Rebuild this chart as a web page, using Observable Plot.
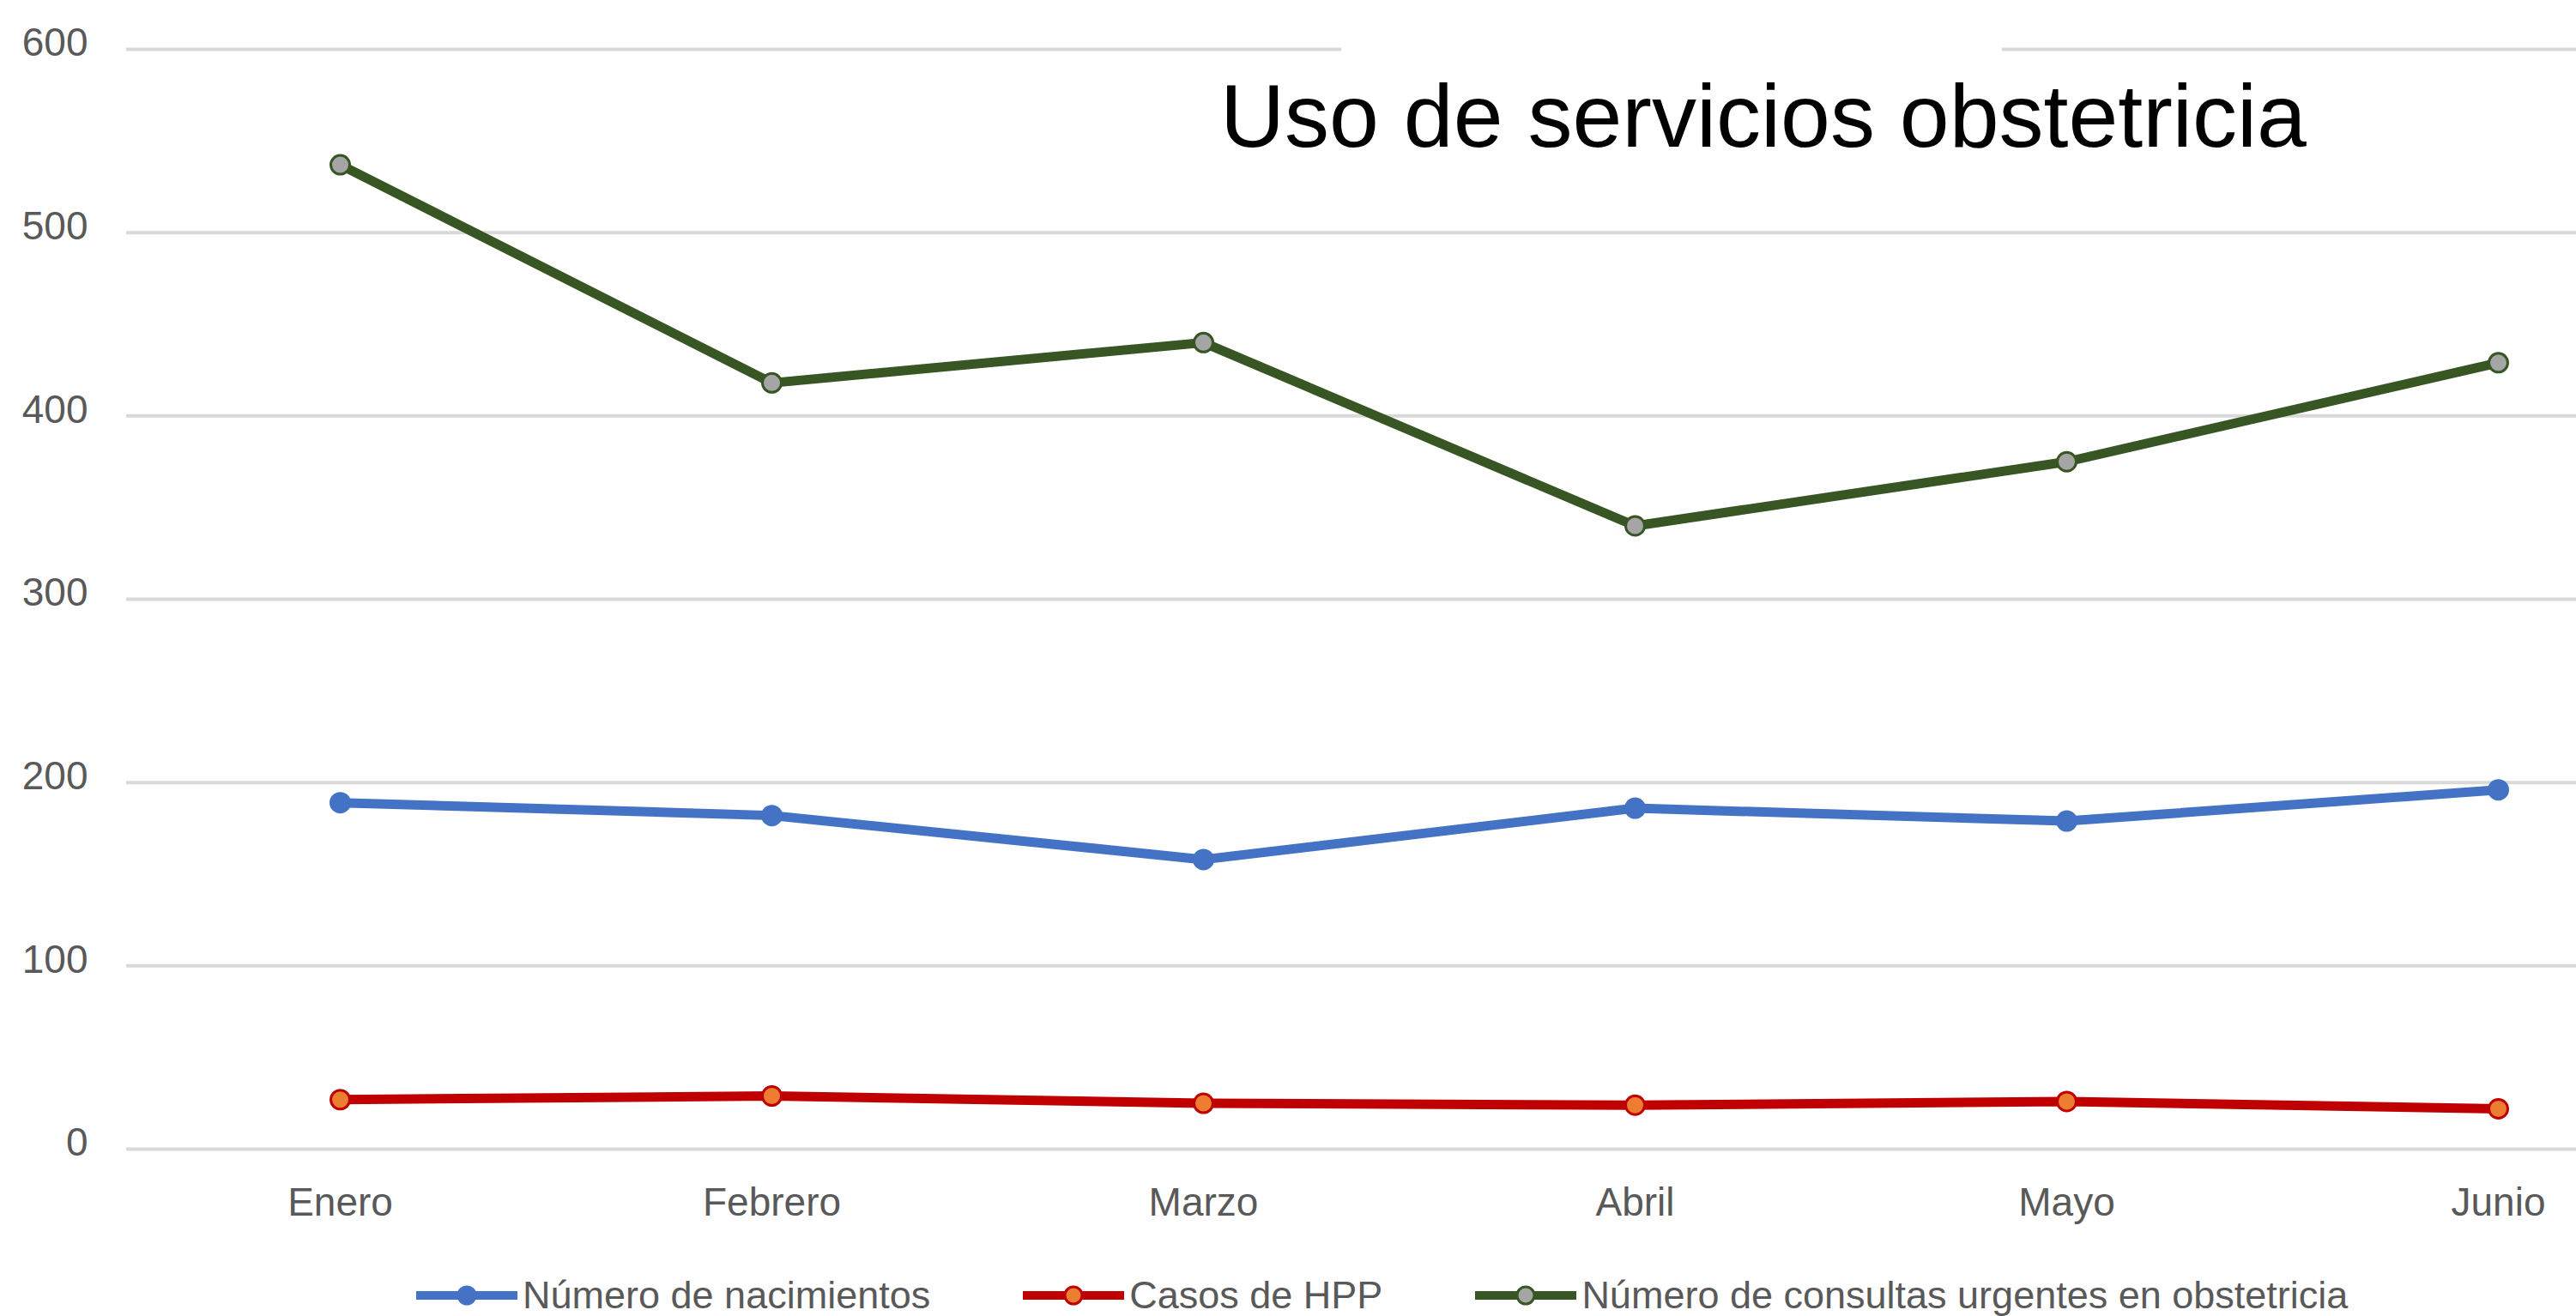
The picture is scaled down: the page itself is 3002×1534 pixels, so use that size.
<!DOCTYPE html>
<html>
<head>
<meta charset="utf-8">
<script src="https://cdn.jsdelivr.net/npm/d3@7"></script>
<script src="https://cdn.jsdelivr.net/npm/@observablehq/plot@0.6"></script>
<style>
  html, body { margin: 0; padding: 0; background: #fff; }
  body { width: 3002px; height: 1534px; overflow: hidden; position: relative; font-family: "Liberation Sans", Arial, sans-serif; }
  #chart svg { display: block; }
  #title { position: absolute; left: 1422px; top: 83px; font-size: 104px; line-height: 1; color: #000; white-space: nowrap; }
  #mask { position: absolute; left: 1563px; top: 45px; width: 770px; height: 24px; background: #fff; }
  #legend { position: absolute; left: 0; top: 1460px; height: 100px; width: 3002px; display: flex; align-items: center; padding-left: 485px; box-sizing: border-box; }
  .item { display: flex; align-items: center; margin-right: 108px; }
  .item span { font-size: 45px; color: #595959; margin-left: 6px; white-space: nowrap; }
</style>
</head>
<body>
<div id="chart"></div>
<div id="mask"></div>
<div id="title">Uso de servicios obstetricia</div>
<div id="legend"></div>
<script>
const months = ["Enero", "Febrero", "Marzo", "Abril", "Mayo", "Junio"];
const nacimientos = [189, 182, 158, 186, 179, 196];
const casosHPP = [27, 29, 25, 24, 26, 22];
const consultas = [537, 418, 440, 340, 375, 429];
const yTicks = [0, 100, 200, 300, 400, 500, 600];
const seriesNames = ["Número de nacimientos", "Casos de HPP", "Número de consultas urgentes en obstetricia"];

const seriesStyles = [
  {name: seriesNames[0], values: nacimientos, stroke: "#4472C4", fill: "#4472C4", mstroke: "#4472C4"},
  {name: seriesNames[1], values: casosHPP, stroke: "#C00000", fill: "#ED7D31", mstroke: "#C00000"},
  {name: seriesNames[2], values: consultas, stroke: "#375623", fill: "#A5A5A5", mstroke: "#375623"}
];

const marks = [
  Plot.ruleY(yTicks, {stroke: "#d9d9d9", strokeWidth: 4}),
  Plot.axisY({ticks: yTicks, anchor: "left", tickSize: 0, tickPadding: 45, fontSize: 46, color: "#595959", dy: -7, label: null}),
  Plot.axisX({anchor: "bottom", tickSize: 0, tickPadding: 45, fontSize: 46, color: "#595959", label: null})
];

for (const s of seriesStyles) {
  const rows = months.map((m, i) => ({month: m, value: s.values[i]}));
  marks.push(Plot.line(rows, {x: "month", y: "value", stroke: s.stroke, strokeWidth: 11, strokeLinejoin: "round", strokeLinecap: "round"}));
  marks.push(Plot.dot(rows, {x: "month", y: "value", r: 11, fill: s.fill, stroke: s.mstroke, strokeWidth: 3}));
}

const chart = Plot.plot({
  width: 3002,
  height: 1460,
  marginLeft: 147,
  marginRight: 0,
  marginTop: 57,
  marginBottom: 121,
  style: {fontFamily: "Liberation Sans, Arial, sans-serif", background: "#fff", overflow: "visible"},
  x: {type: "point", domain: months, range: [395, 2912], padding: 0},
  y: {domain: [0, 600], range: [1339, 57]},
  marks
});
document.getElementById("chart").appendChild(chart);

const legend = document.getElementById("legend");
for (const s of seriesStyles) {
  const item = document.createElement("div");
  item.className = "item";
  item.innerHTML = `<svg width="118" height="30"><line x1="0" x2="118" y1="15" y2="15" stroke="${s.stroke}" stroke-width="10"/><circle cx="59" cy="15" r="10" fill="${s.fill}" stroke="${s.mstroke}" stroke-width="3"/></svg><span>${s.name}</span>`;
  legend.appendChild(item);
}
</script>
</body>
</html>
